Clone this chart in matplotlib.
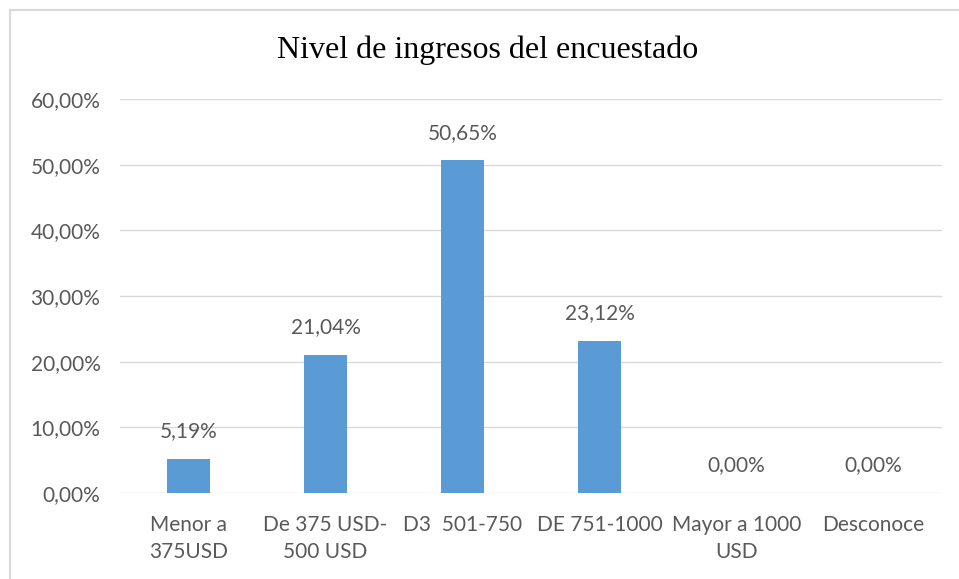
import matplotlib.pyplot as plt
from matplotlib.patches import Rectangle

# datos
categorias = ["Menor a\n375USD", "De 375 USD-\n500 USD", "D3  501-750",
              "DE 751-1000", "Mayor a 1000\nUSD", "Desconoce"]
valores = [5.19, 21.04, 50.65, 23.12, 0.00, 0.00]
etiquetas = ["5,19%", "21,04%", "50,65%", "23,12%", "0,00%", "0,00%"]
ticks_y = [0, 10, 20, 30, 40, 50, 60]
ticks_y_txt = ["0,00%", "10,00%", "20,00%", "30,00%", "40,00%", "50,00%", "60,00%"]

GRIS = "#595959"
AZUL = "#5B9BD5"
SANS = ["Lato", "DejaVu Sans"]
FS = 15

fig = plt.figure(figsize=(9.59, 5.79), dpi=100)
ax = fig.add_axes([0.1251, 0.1485, 0.8572, 0.6805])

# marco del grafico
fig.patches.append(Rectangle((10 / 959, -0.05), 1.1, 1 - 10 / 579 + 0.05,
                             transform=fig.transFigure, fill=False,
                             edgecolor="#D9D9D9", linewidth=1.5))

x = range(len(categorias))
ax.bar(x, valores, width=0.32, color=AZUL, zorder=3)

for xi, v, t in zip(x, valores, etiquetas):
    ax.text(xi, v + 2.7, t, ha="center", va="bottom", fontsize=FS,
            color=GRIS, family=SANS)

ax.set_ylim(0, 60)
ax.set_xlim(-0.5, len(categorias) - 0.5)
ax.set_yticks(ticks_y)
ax.set_yticklabels(ticks_y_txt, family=SANS, fontsize=FS, color=GRIS)
ax.set_xticks(list(x))
ax.set_xticklabels(categorias, family=SANS, fontsize=FS, color=GRIS,
                   linespacing=1.45, va="top")
ax.tick_params(axis="both", length=0)
ax.tick_params(axis="x", pad=16)
ax.tick_params(axis="y", pad=14)
ax.grid(axis="y", color="#D9D9D9", linewidth=1, zorder=0)
for s in ax.spines.values():
    s.set_visible(False)

fig.text(488 / 959, 1 - 50 / 579, "Nivel de ingresos del encuestado",
         ha="center", va="center", fontsize=23, family="Liberation Serif",
         color="black")

fig.savefig("out.png", dpi=100)
